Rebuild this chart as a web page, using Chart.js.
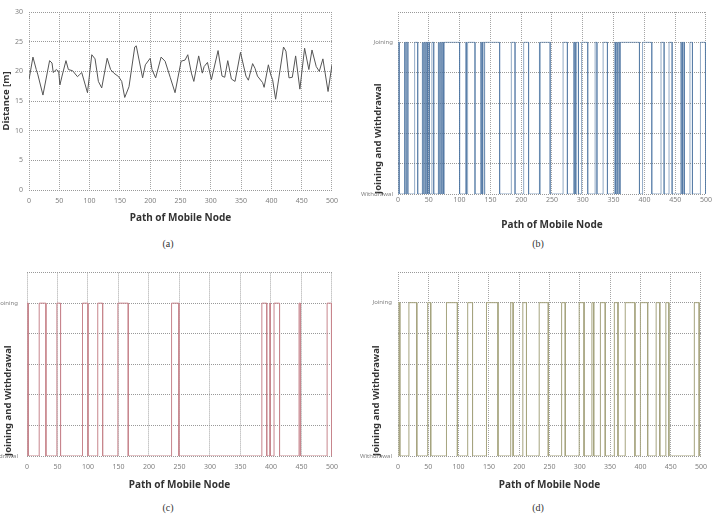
<!DOCTYPE html>
<html lang="en">
<head>
  <meta charset="UTF-8">
  <title>Path of Mobile Node</title>
  <style>
    body {
      margin: 0;
      background: #fff;
      width: 714px;
      height: 527px;
      position: relative;
      overflow: hidden;
    }
    .panel {
      position: absolute;
    }
    .cap {
      position: absolute;
      width: 40px;
      margin-left: -20px;
      text-align: center;
      font-family: 'Liberation Serif', serif;
      font-size: 10px;
      color: #333;
    }
  </style>
</head>
<body>

  <div class="panel" style="left:0;top:0;width:345px;height:235px"><canvas id="chartA"></canvas></div>
  <div class="panel" style="left:360px;top:0;width:354px;height:235px"><canvas id="chartB"></canvas></div>
  <div class="panel" style="left:0;top:260px;width:345px;height:235px"><canvas id="chartC"></canvas></div>
  <div class="panel" style="left:360px;top:260px;width:354px;height:235px"><canvas id="chartD"></canvas></div>

  <div class="cap" style="left:168px;top:238px">(a)</div>
  <div class="cap" style="left:538px;top:238px">(b)</div>
  <div class="cap" style="left:168px;top:502px">(c)</div>
  <div class="cap" style="left:538px;top:502px">(d)</div>

  <script src="https://cdn.jsdelivr.net/npm/chart.js"></script>
  <script>
    // (a) distance along the path
    const aX = [0, 6.5, 12, 14.7, 23, 34, 38, 40, 45, 49, 51, 54.5, 61, 65, 72, 80, 83, 87, 96.5,
      103.6, 109, 114.5, 120, 129, 134.7, 140, 148, 153, 158, 165, 174.5, 177, 187.5, 192, 200,
      203, 209, 218, 224.6, 233, 241, 251, 257.5, 262, 268, 272, 280, 286, 289, 294.5, 301, 312,
      318.5, 323, 328, 334, 340, 349, 358, 362, 369, 373, 377, 385.5, 388, 395, 399, 402, 407,
      420, 424, 429, 434.5, 440, 447, 454.8, 461.8, 467, 474, 479, 485, 493.5, 500];
    const aY = [18.6, 22.4, 20.3, 19.4, 16.0, 21.8, 21.4, 19.8, 20.3, 20.0, 17.7, 19.2, 21.8, 20.3,
      20.1, 19.1, 19.4, 19.8, 16.4, 22.8, 22.1, 18.3, 17.2, 22.2, 20.3, 19.7, 19.1, 18.3, 15.6,
      17.4, 24.1, 24.3, 18.9, 21.1, 22.2, 20.3, 18.9, 22.4, 21.7, 19.0, 16.4, 21.7, 21.9, 22.8,
      19.7, 18.3, 22.6, 19.7, 20.8, 21.5, 18.6, 23.5, 19.2, 19.0, 21.8, 18.7, 18.3, 23.2, 19.2,
      18.5, 21.3, 20.5, 19.2, 18.1, 17.3, 21.1, 19.4, 18.6, 15.3, 24.1, 23.4, 18.9, 19.0, 22.6,
      17.0, 23.9, 20.3, 23.6, 20.8, 20.0, 22.1, 16.6, 21.1];

    // (b)-(d) intervals in which the node is joined [from, to]
    const joinB = [[0, 2], [10, 11], [12, 13], [14, 16], [27, 32], [39, 40], [41, 42], [43, 44],
      [45, 46], [47, 48], [49, 51], [55, 58], [65, 66], [67, 68], [69, 70], [71, 72], [73, 74],
      [75, 100], [110, 111], [113, 125], [134, 135], [136, 137], [138, 140], [141, 165],
      [184, 190], [204, 212], [229, 230], [231, 247], [268, 275], [285, 286], [287, 288],
      [290, 293], [298, 308], [320, 323], [333, 340], [352, 353], [355, 356], [358, 360],
      [361, 392], [397, 412], [427, 432], [440, 445], [459, 460], [461, 462], [463, 465],
      [474, 478], [491, 499]];
    const joinC = [[0, 2], [20, 31], [49, 55], [91, 100], [116, 124], [149, 166], [237, 249],
      [385, 393], [398, 399], [405, 414], [446, 448], [492, 499]];
    const joinD = [[0, 3], [18, 31], [49, 54], [80, 98], [115, 123], [146, 165], [186, 190],
      [206, 212], [233, 248], [270, 276], [299, 307], [320, 323], [334, 342], [357, 363],
      [375, 391], [400, 412], [426, 432], [442, 447], [489, 497]];

    const xMax = 500;

    function stepPoints(intervals) {
      const pts = [{ x: 0, y: 0 }];
      intervals.forEach(([s, e]) => {
        pts.push({ x: s, y: 0 }, { x: s, y: 1 }, { x: e, y: 1 }, { x: e, y: 0 });
      });
      pts.push({ x: xMax, y: 0 });
      return pts;
    }

    const titleFont = { family: "'Noto Sans', sans-serif", size: 10, weight: 'bold' };
    const yTitleFont = { family: "'Noto Sans', sans-serif", size: 9.5, weight: 'bold' };
    const tickFont = { family: "'Noto Sans', sans-serif", size: 7 };

    function makeChart(id, points, color, o) {
      return new Chart(document.getElementById(id), {
        type: 'line',
        data: {
          datasets: [{
            data: points,
            borderColor: color,
            borderWidth: 1,
            pointRadius: 0,
            fill: false
          }]
        },
        options: {
          responsive: true,
          maintainAspectRatio: false,
          animation: false,
          layout: { padding: { top: 12, right: o.padRight, left: 0, bottom: 0 } },
          plugins: { legend: { display: false }, tooltip: { enabled: false } },
          scales: {
            x: {
              type: 'linear',
              min: 0,
              max: xMax,
              ticks: { stepSize: 50, padding: o.xTickPad, font: tickFont, color: '#808080', maxRotation: 0, autoSkip: false },
              grid: { color: '#a5a5a5', drawTicks: false },
              border: { display: false, dash: [1, 1] },
              title: { display: true, text: 'Path of Mobile Node', font: titleFont, color: '#333', padding: { top: 0, bottom: o.xTitlePad } },
              afterFit: s => { s.height = o.xHeight; }
            },
            y: {
              min: o.yMin,
              max: o.yMax,
              ticks: { stepSize: o.yStep, padding: o.yTickPad, font: o.yTickFont, color: '#808080', callback: o.yLabel },
              grid: { color: '#999', drawTicks: false },
              border: { display: false, dash: [1, 1] },
              title: { display: true, text: o.yTitle, align: o.yAlign, font: yTitleFont, color: '#333', padding: { top: o.yTitlePad, bottom: 0 } },
              afterFit: s => { s.width = o.yWidth; }
            }
          }
        }
      });
    }

    const stateLabel = v => {
      const r = Math.round(v * 10) / 10;
      if (r === 1) return 'Joining';
      if (r === 0) return 'Withdrawal';
      return '';
    };
    const stateOpts = {
      yMin: 0, yMax: 1.2, yStep: 0.2,
      yTickFont: { family: "'Noto Sans', sans-serif", size: 6 },
      yLabel: stateLabel,
      yTitle: 'Joining and Withdrawal',
      yAlign: 'start'
    };

    const aPoints = aX.map((x, i) => ({ x: x, y: aY[i] }));

    makeChart('chartA', aPoints, '#555', {
      padRight: 10, xTickPad: 7, xHeight: 45, xTitlePad: 11, yWidth: 29, yTitlePad: 1, yTickPad: 6,
      yMin: 0, yMax: 30, yStep: 5, yTickFont: tickFont, yLabel: v => v,
      yTitle: 'Distance [m]', yAlign: 'center'
    });
    makeChart('chartB', stepPoints(joinB), 'rgba(75,115,160,0.6)', Object.assign({
      padRight: 7, xTickPad: 2, xHeight: 41, xTitlePad: 4, yWidth: 38, yTitlePad: 13, yTickPad: 5
    }, stateOpts));
    makeChart('chartC', stepPoints(joinC), '#c7868d', Object.assign({
      padRight: 10, xTickPad: 7, xHeight: 39, xTitlePad: 4, yWidth: 27, yTitlePad: 3, yTickPad: 9
    }, stateOpts));
    makeChart('chartD', stepPoints(joinD), '#a6a47f', Object.assign({
      padRight: 7, xTickPad: 7, xHeight: 39, xTitlePad: 4, yWidth: 38, yTitlePad: 11, yTickPad: 6
    }, stateOpts));
  </script>

</body>
</html>
